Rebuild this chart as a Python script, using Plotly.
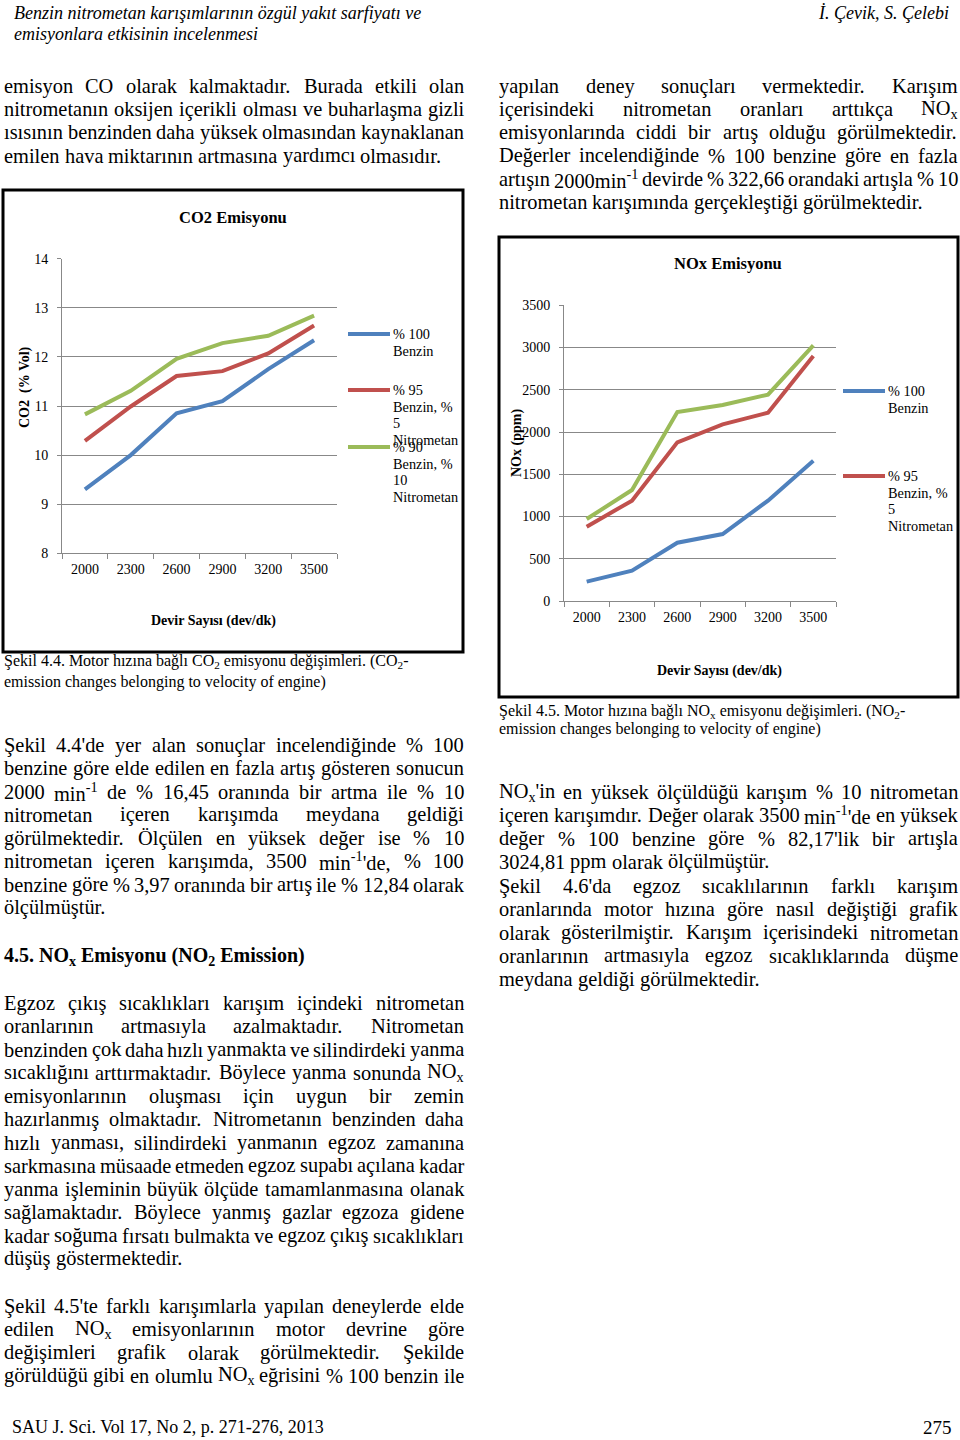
import re
import plotly.graph_objects as go

# ---------------- data ----------------
rpm = ['2000', '2300', '2600', '2900', '3200', '3500']
series_names = ['% 100 Benzin', '% 95 Benzin, % 5 Nitrometan', '% 90 Benzin, % 10 Nitrometan']
series_colors = ['#4F81BD', '#C0504D', '#9BBB59']
co2_benzin = [9.30, 10.00, 10.85, 11.10, 11.75, 12.34]
co2_nm5 = [10.29, 10.99, 11.61, 11.71, 12.07, 12.64]
co2_nm10 = [10.83, 11.31, 11.96, 12.28, 12.43, 12.84]
nox_benzin = [229, 359, 690, 793, 1188, 1660]
nox_nm5 = [880, 1188, 1878, 2091, 2229, 2900]
nox_nm10 = [970, 1314, 2237, 2320, 2443, 3025]

W, H = 960, 1440
FONT = 'Liberation Serif'
GRID = '#888888'


def X(px):
    return px / W


def Y(py):
    return 1 - py / H


TIMES = {
    ' ': 250, '.': 250, ',': 250, "'": 180, '(': 333, ')': 333, '-': 333, '%': 833, '/': 278,
    'a': 444, 'b': 500, 'c': 444, 'd': 500, 'e': 444, 'f': 333, 'g': 500, 'h': 500, 'i': 278,
    'j': 278, 'k': 500, 'l': 278, 'm': 778, 'n': 500, 'o': 500, 'p': 500, 'q': 500, 'r': 333,
    's': 389, 't': 278, 'u': 500, 'v': 500, 'w': 722, 'x': 500, 'y': 500, 'z': 444,
    'A': 722, 'B': 667, 'C': 667, 'D': 722, 'E': 611, 'F': 556, 'G': 722, 'H': 722, 'I': 333,
    'J': 389, 'K': 722, 'L': 611, 'M': 889, 'N': 722, 'O': 722, 'P': 556, 'Q': 722, 'R': 667,
    'S': 556, 'T': 611, 'U': 722, 'V': 722, 'W': 944, 'X': 722, 'Y': 722, 'Z': 611,
    'ş': 389, 'Ş': 556, 'ç': 444, 'Ç': 667, 'ğ': 500, 'ı': 278, 'İ': 333, 'ö': 500, 'Ö': 722,
    'ü': 500, 'Ü': 722,
}


def text_width(s, size):
    w = 0.0
    scale = 1.0
    for tok in re.split(r'(<[^>]+>)', s):
        if tok.startswith('<'):
            if tok in ('<sub>', '<sup>'):
                scale = 0.7
            elif tok in ('</sub>', '</sup>'):
                scale = 1.0
            continue
        for ch in tok:
            w += TIMES.get(ch, 500) * scale
    return w / 1000 * size


annotations = []


def ann(text, px, py, size, xanchor='left', yanchor='middle', angle=0, color='black'):
    annotations.append(dict(
        x=X(px), y=Y(py), xref='paper', yref='paper', text=text, showarrow=False,
        xanchor=xanchor, yanchor=yanchor, textangle=angle, borderpad=0, borderwidth=0,
        font=dict(family=FONT, size=size, color=color)))


def paragraph(lines, x0, x1, y0, dy, size, last_justified=False):
    for i, line in enumerate(lines):
        y = y0 + i * dy
        words = line.split()
        is_last = (i == len(lines) - 1) and not last_justified
        widths = [text_width(w, size) for w in words]
        if is_last or len(words) == 1:
            gap = 0.25 * size
        else:
            gap = (x1 - x0 - sum(widths)) / (len(words) - 1)
        x = x0
        for w, wd in zip(words, widths):
            ann(w, x, y, size)
            x += wd + gap


BODY = 20.4
LH = 23.25
LX0, LX1 = 4, 464
RX0, RX1 = 499, 958

# header
ann('<i>Benzin nitrometan karışımlarının özgül yakıt sarfiyatı ve</i>', 14, 13, 18)
ann('<i>emisyonlara etkisinin incelenmesi</i>', 14, 34, 18)
ann('<i>İ. Çevik, S. Çelebi</i>', 949, 13, 18, xanchor='right')

paragraph([
    'emisyon CO olarak kalmaktadır. Burada etkili olan',
    'nitrometanın oksijen içerikli olması ve buharlaşma gizli',
    'ısısının benzinden daha yüksek olmasından kaynaklanan',
    'emilen hava miktarının artmasına yardımcı olmasıdır.',
], LX0, LX1, 86, LH, BODY)

paragraph([
    'yapılan deney sonuçları vermektedir. Karışım',
    'içerisindeki nitrometan oranları arttıkça NO<sub>x</sub>',
    'emisyonlarında ciddi bir artış olduğu görülmektedir.',
    'Değerler incelendiğinde % 100 benzine göre en fazla',
    'artışın 2000min<sup>-1</sup> devirde % 322,66 orandaki artışla % 10',
    'nitrometan karışımında gerçekleştiği görülmektedir.',
], RX0, RX1, 86, LH, BODY)

ann('Şekil 4.4. Motor hızına bağlı CO<sub>2</sub> emisyonu değişimleri. (CO<sub>2</sub>-', 4, 662, 16)
ann('emission changes belonging to velocity of engine)', 4, 682, 16)

paragraph([
    "Şekil 4.4'de yer alan sonuçlar incelendiğinde % 100",
    'benzine göre elde edilen en fazla artış gösteren sonucun',
    '2000 min<sup>-1</sup> de % 16,45 oranında bir artma ile % 10',
    'nitrometan içeren karışımda meydana geldiği',
    'görülmektedir. Ölçülen en yüksek değer ise % 10',
    "nitrometan içeren karışımda, 3500 min<sup>-1</sup>'de, % 100",
    'benzine göre % 3,97 oranında bir artış ile % 12,84 olarak',
    'ölçülmüştür.',
], LX0, LX1, 745, LH, BODY)

ann('<b>4.5. NO<sub>x</sub> Emisyonu (NO<sub>2</sub> Emission)</b>', 4, 956, 20)

paragraph([
    'Egzoz çıkış sıcaklıkları karışım içindeki nitrometan',
    'oranlarının artmasıyla azalmaktadır. Nitrometan',
    'benzinden çok daha hızlı yanmakta ve silindirdeki yanma',
    'sıcaklığını arttırmaktadır. Böylece yanma sonunda NO<sub>x</sub>',
    'emisyonlarının oluşması için uygun bir zemin',
    'hazırlanmış olmaktadır. Nitrometanın benzinden daha',
    'hızlı yanması, silindirdeki yanmanın egzoz zamanına',
    'sarkmasına müsaade etmeden egzoz supabı açılana kadar',
    'yanma işleminin büyük ölçüde tamamlanmasına olanak',
    'sağlamaktadır. Böylece yanmış gazlar egzoza gidene',
    'kadar soğuma fırsatı bulmakta ve egzoz çıkış sıcaklıkları',
    'düşüş göstermektedir.',
], LX0, LX1, 1003, LH, BODY)

paragraph([
    "Şekil 4.5'te farklı karışımlarla yapılan deneylerde elde",
    'edilen NO<sub>x</sub> emisyonlarının motor devrine göre',
    'değişimleri grafik olarak görülmektedir. Şekilde',
    'görüldüğü gibi en olumlu NO<sub>x</sub> eğrisini % 100 benzin ile',
], LX0, LX1, 1306, LH, BODY, last_justified=True)

ann('Şekil 4.5. Motor hızına bağlı NO<sub>x</sub> emisyonu değişimleri. (NO<sub>2</sub>-', 499, 711, 16)
ann('emission changes belonging to velocity of engine)', 499, 729, 16)

paragraph([
    "NO<sub>x</sub>'in en yüksek ölçüldüğü karışım % 10 nitrometan",
    "içeren karışımdır. Değer olarak 3500 min<sup>-1</sup>'de en yüksek",
    "değer % 100 benzine göre % 82,17'lik bir artışla",
    '3024,81 ppm olarak ölçülmüştür.',
], RX0, RX1, 792, LH, BODY)

paragraph([
    "Şekil 4.6'da egzoz sıcaklılarının farklı karışım",
    'oranlarında motor hızına göre nasıl değiştiği grafik',
    'olarak gösterilmiştir. Karışım içerisindeki nitrometan',
    'oranlarının artmasıyla egzoz sıcaklıklarında düşme',
    'meydana geldiği görülmektedir.',
], RX0, RX1, 886, LH, BODY)

ann('SAU J. Sci. Vol 17, No 2, p. 271-276, 2013', 12, 1427, 18)
ann('275', 952, 1427, 19, xanchor='right')

# chart titles
ann('<b>CO2 Emisyonu</b>', 233, 217, 16.5, xanchor='center')
ann('<b>Devir Sayısı (dev/dk)</b>', 213, 621, 14, xanchor='center')
ann('<b>CO2  (% Vol)</b>', 25, 387, 14, xanchor='center', angle=-90)
ann('<b>NOx Emisyonu</b>', 728, 263, 16.5, xanchor='center')
ann('<b>Devir Sayısı (dev/dk)</b>', 719, 671, 14, xanchor='center')
ann('<b>NOx (ppm)</b>', 517, 443, 14, xanchor='center', angle=-90)

# manual legends
shapes = []
LEG = 14.3


def legend(sample_x0, sample_x1, text_x, entries):
    for color, sy, lines in entries:
        shapes.append(dict(type='line', xref='paper', yref='paper', x0=X(sample_x0), x1=X(sample_x1),
                           y0=Y(sy), y1=Y(sy), line=dict(color=color, width=4)))
        for j, t in enumerate(lines):
            ann(t, text_x, sy + j * 16.6, LEG)


legend(348, 390, 393, [
    (series_colors[0], 334, ['% 100', 'Benzin']),
    (series_colors[1], 390, ['% 95', 'Benzin, %', '5', 'Nitrometan']),
    (series_colors[2], 447, ['% 90', 'Benzin, %', '10', 'Nitrometan']),
])
legend(843, 885, 888, [
    (series_colors[0], 391, ['% 100', 'Benzin']),
    (series_colors[1], 476, ['% 95', 'Benzin, %', '5', 'Nitrometan']),
])

# chart frames
for (a, b, c, d) in [(3, 190, 463, 652), (499, 237, 958, 697)]:
    shapes.append(dict(type='rect', xref='paper', yref='paper', x0=X(a), x1=X(c), y0=Y(d), y1=Y(b),
                       line=dict(color='black', width=3), fillcolor='rgba(0,0,0,0)'))

fig = go.Figure()
for vals, name, col in zip([co2_benzin, co2_nm5, co2_nm10], series_names, series_colors):
    fig.add_trace(go.Scatter(x=rpm, y=vals, mode='lines', name=name, xaxis='x', yaxis='y',
                             line=dict(color=col, width=4), showlegend=False))
for vals, name, col in zip([nox_benzin, nox_nm5, nox_nm10], series_names, series_colors):
    fig.add_trace(go.Scatter(x=rpm, y=vals, mode='lines', name=name, xaxis='x2', yaxis='y2',
                             line=dict(color=col, width=4), showlegend=False))

tickfont = dict(family=FONT, size=14, color='black')
xcommon = dict(type='category', range=[-0.5, 5.5], tickson='boundaries', ticks='outside', ticklen=5,
               tickcolor=GRID, showline=True, linecolor=GRID, linewidth=1, showgrid=False,
               tickfont=tickfont, ticklabelstandoff=3, fixedrange=True, automargin=False)
ycommon = dict(showgrid=True, gridcolor=GRID, gridwidth=1, showline=True, linecolor=GRID, linewidth=1,
               ticks='outside', ticklen=4, tickcolor=GRID, zeroline=False, tickfont=tickfont,
               ticklabelstandoff=6, fixedrange=True, automargin=False)

fig.update_layout(
    width=W, height=H, autosize=False,
    margin=dict(l=0, r=0, t=0, b=0, pad=0, autoexpand=False),
    paper_bgcolor='white', plot_bgcolor='white',
    xaxis=dict(domain=[X(62), X(337)], anchor='y', **xcommon),
    yaxis=dict(domain=[Y(553.3), Y(258.7)], anchor='x', range=[8, 14], dtick=1, **ycommon),
    xaxis2=dict(domain=[X(564), X(836)], anchor='y2', **xcommon),
    yaxis2=dict(domain=[Y(601), Y(305.3)], anchor='x2', range=[0, 3500], dtick=500, **ycommon),
    annotations=annotations,
    shapes=shapes,
    showlegend=False,
)

fig.write_html(
    'out.html',
    config={'displayModeBar': False},
    post_script="document.body.style.margin='0';document.body.style.padding='0';"
                "document.documentElement.style.overflow='hidden';",
)
